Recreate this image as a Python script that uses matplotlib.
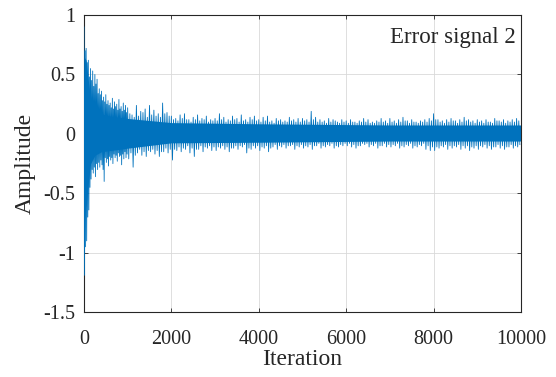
import numpy as np
import matplotlib
matplotlib.use("Agg")
import matplotlib.pyplot as plt

# ---- data ----
# bin edges (iterations): 50-wide bins up to 1000, then 100-wide bins
early_edges = list(range(0, 1001, 50))
late_edges = list(range(1100, 10001, 100))

# largest upward / downward excursion in each bin
peak_hi = [0.90, 0.72, 0.62, 0.55, 0.53, 0.50, 0.46, 0.38, 0.36, 0.31,
           0.33, 0.28, 0.26, 0.30, 0.27, 0.25, 0.29, 0.23, 0.26, 0.24,
           0.22, 0.16, 0.24, 0.19, 0.21, 0.24, 0.20, 0.17, 0.26, 0.18,
           0.15, 0.13, 0.16, 0.17, 0.12, 0.14, 0.16, 0.13, 0.15, 0.12,
           0.13, 0.17, 0.14, 0.12, 0.15, 0.13, 0.16, 0.12, 0.14, 0.15,
           0.12, 0.14, 0.15, 0.11, 0.13, 0.12, 0.11, 0.14, 0.12, 0.13,
           0.13, 0.12, 0.19, 0.14, 0.12, 0.11, 0.13, 0.12, 0.10, 0.12,
           0.11, 0.12, 0.10, 0.11, 0.13, 0.12, 0.10, 0.11, 0.13, 0.11,
           0.13, 0.11, 0.12, 0.14, 0.11, 0.12, 0.10, 0.11, 0.12, 0.13,
           0.17, 0.12, 0.11, 0.12, 0.13, 0.11, 0.12, 0.14, 0.12, 0.11,
           0.12, 0.11, 0.12, 0.10, 0.13, 0.11, 0.12, 0.11, 0.12, 0.13]
peak_lo = [-1.19, -0.90, -0.64, -0.38, -0.33, -0.36, -0.30, -0.28, -0.26, -0.40,
           -0.24, -0.27, -0.22, -0.25, -0.20, -0.23, -0.19, -0.26, -0.21, -0.20,
           -0.21, -0.28, -0.16, -0.18, -0.19, -0.15, -0.17, -0.19, -0.15, -0.16,
           -0.22, -0.14, -0.15, -0.13, -0.16, -0.19, -0.13, -0.15, -0.12, -0.14,
           -0.14, -0.12, -0.13, -0.15, -0.12, -0.13, -0.11, -0.16, -0.13, -0.12,
           -0.14, -0.12, -0.15, -0.11, -0.13, -0.11, -0.12, -0.10, -0.13, -0.11,
           -0.12, -0.11, -0.13, -0.10, -0.12, -0.11, -0.10, -0.12, -0.11, -0.10,
           -0.10, -0.11, -0.12, -0.10, -0.09, -0.11, -0.10, -0.12, -0.10, -0.11,
           -0.11, -0.10, -0.12, -0.11, -0.10, -0.12, -0.11, -0.10, -0.13, -0.14,
           -0.14, -0.12, -0.11, -0.13, -0.12, -0.11, -0.13, -0.12, -0.14, -0.12,
           -0.13, -0.11, -0.12, -0.13, -0.11, -0.12, -0.13, -0.11, -0.12, -0.11]

# second-largest excursions in each bin
sub_hi = [0.70, 0.60, 0.48, 0.45, 0.40, 0.42, 0.34, 0.33, 0.28, 0.27,
          0.25, 0.24, 0.22, 0.21, 0.23, 0.20, 0.21, 0.19, 0.20, 0.18,
          0.17, 0.14, 0.15, 0.18, 0.14, 0.16, 0.15, 0.14, 0.17, 0.15,
          0.12, 0.11, 0.13, 0.12, 0.10, 0.12, 0.11, 0.12, 0.10, 0.11,
          0.11, 0.12, 0.10, 0.11, 0.12, 0.10, 0.11, 0.10, 0.12, 0.11,
          0.10, 0.11, 0.10, 0.09, 0.11, 0.10, 0.10, 0.11, 0.10, 0.10,
          0.11, 0.10, 0.12, 0.10, 0.10, 0.09, 0.10, 0.11, 0.09, 0.10,
          0.09, 0.10, 0.09, 0.10, 0.10, 0.09, 0.09, 0.10, 0.10, 0.09,
          0.10, 0.09, 0.10, 0.11, 0.09, 0.10, 0.09, 0.10, 0.10, 0.11,
          0.12, 0.10, 0.09, 0.10, 0.11, 0.09, 0.10, 0.11, 0.10, 0.09,
          0.10, 0.09, 0.10, 0.09, 0.11, 0.10, 0.09, 0.10, 0.10, 0.11]
sub_lo = [-0.95, -0.70, -0.45, -0.30, -0.28, -0.25, -0.24, -0.22, -0.30, -0.20,
          -0.21, -0.19, -0.20, -0.17, -0.18, -0.16, -0.18, -0.17, -0.15, -0.17,
          -0.16, -0.18, -0.13, -0.15, -0.14, -0.13, -0.14, -0.15, -0.12, -0.13,
          -0.13, -0.11, -0.12, -0.10, -0.12, -0.13, -0.10, -0.11, -0.10, -0.11,
          -0.11, -0.10, -0.11, -0.12, -0.10, -0.10, -0.09, -0.12, -0.10, -0.10,
          -0.11, -0.10, -0.12, -0.09, -0.10, -0.09, -0.10, -0.09, -0.10, -0.09,
          -0.10, -0.09, -0.10, -0.08, -0.10, -0.09, -0.08, -0.10, -0.09, -0.08,
          -0.08, -0.09, -0.10, -0.08, -0.08, -0.09, -0.08, -0.10, -0.08, -0.09,
          -0.09, -0.08, -0.10, -0.09, -0.08, -0.10, -0.09, -0.08, -0.10, -0.11,
          -0.11, -0.10, -0.09, -0.10, -0.10, -0.09, -0.10, -0.10, -0.11, -0.10,
          -0.10, -0.09, -0.10, -0.11, -0.09, -0.10, -0.11, -0.09, -0.10, -0.09]

# dense core of the signal band
core_iter = [0, 50, 100, 150, 250, 400, 600, 1000, 2000, 4000, 7000, 10000]
core_hi = [0.65, 0.62, 0.45, 0.30, 0.22, 0.17, 0.15, 0.13, 0.095, 0.085, 0.075, 0.075]
core_lo = [-0.65, -0.60, -0.40, -0.25, -0.18, -0.15, -0.14, -0.12, -0.075, -0.07, -0.06, -0.06]

xticks = [0, 2000, 4000, 6000, 8000, 10000]
yticks = [-1.5, -1, -0.5, 0, 0.5, 1]
ytick_labels = ["-1.5", "-1", "-0.5", "0", "0.5", "1"]

color = "#0072BD"
plt.rcParams["font.family"] = ["Liberation Serif", "DejaVu Serif"]

fig = plt.figure(figsize=(5.56, 3.77), dpi=100)
ax = fig.add_axes([0.151, 0.172, 0.786, 0.788])

edges = np.array(early_edges + late_edges, dtype=float)
left = edges[:-1]
width = np.diff(edges)
n = len(left)
xs = np.empty(4 * n)
ys = np.empty(4 * n)
xs[0::4] = left
xs[1::4] = left + 0.25 * width
xs[2::4] = left + 0.5 * width
xs[3::4] = left + 0.75 * width
ys[0::4] = peak_hi
ys[1::4] = peak_lo
ys[2::4] = sub_hi
ys[3::4] = sub_lo

ax.fill_between(core_iter, core_lo, core_hi, color=color, lw=0, zorder=2)
ax.plot(xs, ys, color=color, lw=0.6, zorder=3)

ax.set_xlim(0, 10000)
ax.set_ylim(-1.5, 1)
ax.set_xticks(xticks)
ax.set_xticklabels([str(t) for t in xticks])
ax.set_yticks(yticks)
ax.set_yticklabels(ytick_labels)
ax.grid(True, color="#d9d9d9", lw=0.6, zorder=0)
ax.set_axisbelow(True)
ax.tick_params(direction="in", top=True, right=True, labelsize=14.5, length=3,
               width=0.6, colors="#262626")
ax.tick_params(axis="x", pad=13)
ax.tick_params(axis="y", pad=6)
for s in ax.spines.values():
    s.set_linewidth(0.8)
    s.set_color("#262626")
ax.set_xlabel("Iteration", fontsize=17, color="#262626", labelpad=0)
ax.set_ylabel("Amplitude", fontsize=17, color="#262626", labelpad=6)
ax.text(0.988, 0.925, "Error signal 2", transform=ax.transAxes, ha="right",
        va="center", fontsize=16.5, color="#262626")

fig.savefig("out.png", dpi=100)
